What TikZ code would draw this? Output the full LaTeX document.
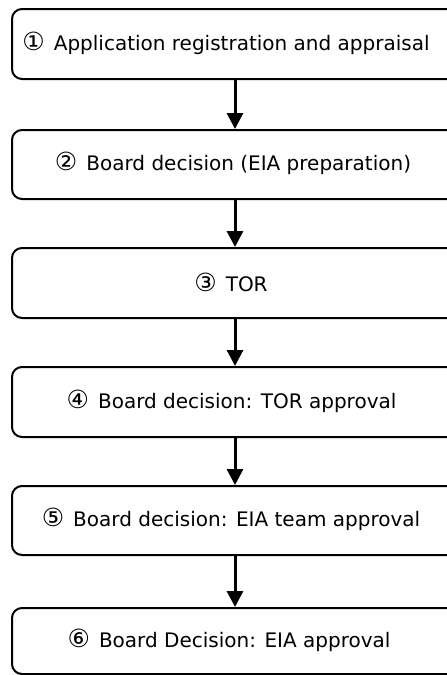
\documentclass[tikz,border=0pt]{standalone}
\usepackage{fontspec}
\setmainfont{DejaVu Sans}
\usetikzlibrary{arrows.meta}
\newcommand\stepnum[1]{{\fontsize{25}{25}\selectfont #1}\hspace{9pt}}
\begin{document}
\begin{tikzpicture}[x=1pt,y=-1pt,
  stage/.style={draw=black, line width=2pt, rounded corners=10pt, minimum width=479pt, inner sep=0pt, anchor=north west},
  lbl/.style={font=\fontsize{20}{24}\selectfont, inner sep=0pt},
  flow/.style={line width=3pt, -{Triangle[length=16pt,width=16pt]}}]
\useasboundingbox (0,0) rectangle (447,675);
\begin{scope}
\clip (0,0) rectangle (447,675);
\node[stage, minimum height=70pt] (b1) at (11,8) {};
\node[stage, minimum height=69pt] (b2) at (11,129) {};
\node[stage, minimum height=70pt] (b3) at (11,247) {};
\node[stage, minimum height=70pt] (b4) at (11,366) {};
\node[stage, minimum height=69pt] (b5) at (11,485) {};
\node[stage, minimum height=66pt] (b6) at (11,607) {};
\end{scope}
\node[lbl] (t1) at (226,43) {\stepnum{①}Application registration and appraisal};
\node[lbl] (t2) at (233,163.5) {\stepnum{②}Board decision (EIA preparation)};
\node[lbl] (t3) at (231,282) {\stepnum{③}TOR};
\node[lbl] (t4) at (231.5,401) {\stepnum{④}Board decision: TOR approval};
\node[lbl] (t5) at (231,519.5) {\stepnum{⑤}Board decision: EIA team approval};
\node[lbl] (t6) at (229,640) {\stepnum{⑥}Board Decision: EIA approval};
\coordinate (ax) at (235,0);
\draw[flow] (ax |- b1.south) -- (ax |- b2.north);
\draw[flow] (ax |- b2.south) -- (ax |- b3.north);
\draw[flow] (ax |- b3.south) -- (ax |- b4.north);
\draw[flow] (ax |- b4.south) -- (ax |- b5.north);
\draw[flow] (ax |- b5.south) -- (ax |- b6.north);
\end{tikzpicture}
\end{document}
